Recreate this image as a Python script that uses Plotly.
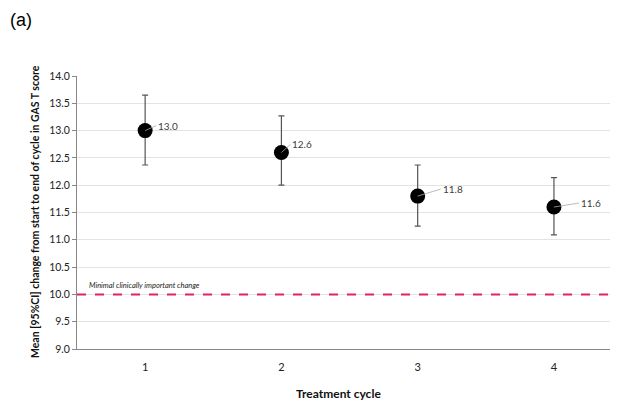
import plotly.graph_objects as go

cycles = ["1", "2", "3", "4"]
means = [13.0, 12.6, 11.8, 11.6]
upper = [13.65, 13.27, 12.37, 12.14]
lower = [12.37, 12.0, 11.25, 11.09]
labels = ["13.0", "12.6", "11.8", "11.6"]
mcid = 10.0
y_ticks = [9.0, 9.5, 10.0, 10.5, 11.0, 11.5, 12.0, 12.5, 13.0, 13.5, 14.0]

err_plus = [u - m for u, m in zip(upper, means)]
err_minus = [m - l for m, l in zip(means, lower)]

FONT = "Lato, 'Open Sans', sans-serif"
OFF = 8  # page body margin
W, H = 618 - OFF, 401 - OFF
L, R, T, B = 77 - OFF, 0, 76 - OFF, 52
PW, PH = W - L - R, H - T - B


def px_x(x):
    return (x - OFF - L) / PW


def px_y(y):
    return 1 - (y - OFF - T) / PH


fig = go.Figure()
fig.add_trace(go.Scatter(
    x=[0, 1, 2, 3], y=means, mode="markers",
    marker=dict(color="black", size=15),
    error_y=dict(type="data", symmetric=False, array=err_plus, arrayminus=err_minus,
                 color="#555555", thickness=1.2, width=3),
    showlegend=False, hoverinfo="skip",
))

fig.add_trace(go.Scatter(
    x=[-0.5, 3.5], y=[mcid, mcid], mode="lines",
    line=dict(color="#E0245E", width=2, dash="dash"),
    showlegend=False, hoverinfo="skip",
))

offsets = [(11, -5), (9, -8), (23, -7), (25, -4)]
for i, (lab, m) in enumerate(zip(labels, means)):
    ax, ay = offsets[i]
    fig.add_annotation(x=i, y=m, xref="x", yref="y", text=lab, showarrow=True,
                       ax=ax, ay=ay, xanchor="left", yanchor="middle",
                       arrowhead=0, arrowwidth=0.8, arrowcolor="#AAAAAA", standoff=0,
                       font=dict(family=FONT, size=10, color="#404040"))

fig.add_annotation(x=-0.5, y=mcid, xref="x", yref="y", text="<i>Minimal clinically important change</i>",
                   showarrow=False, xanchor="left", yanchor="bottom", xshift=10, yshift=2,
                   font=dict(family=FONT, size=7.5, color="#222222"))

fig.add_annotation(x=px_x(8), y=px_y(20), xref="paper", yref="paper",
                   text="(a)", showarrow=False, xanchor="left", yanchor="middle",
                   font=dict(family="Liberation Sans, Arial, sans-serif", size=18, color="black"))

fig.add_annotation(x=px_x(338), y=px_y(393), xref="paper", yref="paper",
                   text="<b>Treatment cycle</b>", showarrow=False, xanchor="center", yanchor="middle",
                   font=dict(family=FONT, size=12, color="#111111"))

fig.add_annotation(x=px_x(35), y=px_y(212), xref="paper", yref="paper", textangle=-90,
                   text="<b>Mean [95%CI] change from start to end of cycle in GAS T score</b>",
                   showarrow=False, xanchor="center", yanchor="middle",
                   font=dict(family=FONT, size=10.5, color="#111111"))

fig.update_layout(
    width=W, height=H,
    margin=dict(l=L, r=R, t=T, b=B, autoexpand=False),
    plot_bgcolor="white", paper_bgcolor="white",
    font=dict(family=FONT, color="#222222"),
    xaxis=dict(range=[-0.5, 3.47], tickmode="array", tickvals=[0, 1, 2, 3], ticktext=cycles,
               showgrid=False, zeroline=False, showline=True, linecolor="#888888", linewidth=1,
               ticks="", ticklabelstandoff=8, tickfont=dict(size=11, color="#222222"), automargin=False),
    yaxis=dict(range=[9.0, 14.0], tickmode="array", tickvals=y_ticks,
               ticktext=[f"{v:.1f}" for v in y_ticks],
               showgrid=True, gridcolor="#E3E3E3", gridwidth=1, zeroline=False,
               showline=True, linecolor="#888888", linewidth=1,
               ticks="outside", ticklen=4, tickcolor="#888888",
               tickfont=dict(size=10.5, color="#222222"), automargin=False),
)

fig.write_html("out.html")
